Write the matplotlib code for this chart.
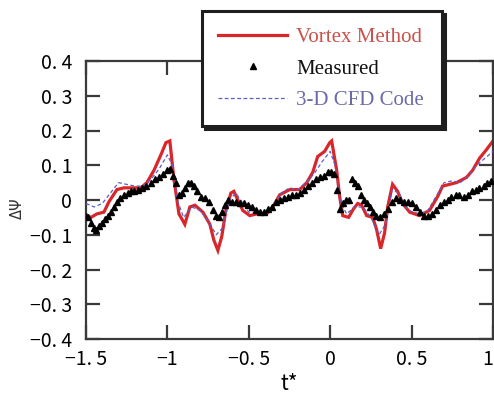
import matplotlib
matplotlib.use("Agg")
import matplotlib.pyplot as plt
from matplotlib.ticker import FixedLocator, FuncFormatter

# ---- data ---------------------------------------------------------------
# Vortex method (solid red)
vortex_t = [-1.500, -1.469, -1.433, -1.390, -1.359, -1.310, -1.267, -1.206, -1.163,
            -1.126, -1.083, -1.040, -1.009, -0.985, -0.960, -0.929, -0.893, -0.862,
            -0.831, -0.782, -0.739, -0.715, -0.690, -0.666, -0.641, -0.610, -0.592,
            -0.567, -0.537, -0.494, -0.451, -0.390, -0.353, -0.310, -0.248, -0.187,
            -0.144, -0.107, -0.077, -0.034, -0.003, 0.009, 0.040, 0.058, 0.077,
            0.113, 0.144, 0.169, 0.193, 0.224, 0.261, 0.285, 0.310, 0.334, 0.353,
            0.383, 0.414, 0.445, 0.488, 0.549, 0.610, 0.660, 0.690, 0.776, 0.837,
            0.874, 0.917, 0.960, 1.000]
vortex_v = [-0.045, -0.050, -0.040, -0.035, -0.005, 0.030, 0.035, 0.035, 0.035,
            0.050, 0.085, 0.130, 0.165, 0.170, 0.060, -0.040, -0.070, -0.020,
            -0.015, -0.035, -0.070, -0.115, -0.145, -0.105, -0.030, 0.020, 0.025,
            0.000, -0.030, -0.045, -0.040, -0.040, -0.020, 0.015, 0.030, 0.030,
            0.050, 0.080, 0.125, 0.140, 0.165, 0.170, 0.085, 0.010, -0.045,
            -0.050, -0.025, -0.010, -0.015, -0.045, -0.050, -0.085, -0.140, -0.095, -0.020,
            0.045, 0.025, -0.010, -0.035, -0.045, -0.030, 0.010, 0.040, 0.050, 0.065,
            0.085, 0.120, 0.145, 0.170]

# Measured (black triangles)
meas_t = [-1.500, -1.488, -1.469, -1.451, -1.439, -1.420, -1.402, -1.383, -1.365,
          -1.347, -1.328, -1.310, -1.291, -1.267, -1.242, -1.224, -1.206, -1.181,
          -1.156, -1.132, -1.101, -1.077, -1.052, -1.028, -1.003, -0.985, -0.966,
          -0.948, -0.929, -0.911, -0.893, -0.874, -0.856, -0.837, -0.819, -0.794,
          -0.770, -0.745, -0.721, -0.702, -0.684, -0.666, -0.647, -0.629, -0.604,
          -0.580, -0.555, -0.531, -0.506, -0.482, -0.457, -0.433, -0.408, -0.383,
          -0.359, -0.334, -0.310, -0.285, -0.261, -0.236, -0.212, -0.187, -0.163,
          -0.138, -0.113, -0.089, -0.064, -0.040, -0.015, 0.003, 0.021, 0.040,
          0.058, 0.077, 0.095, 0.113, 0.132, 0.150, 0.169, 0.187, 0.206, 0.224,
          0.242, 0.261, 0.279, 0.304, 0.328, 0.353, 0.377, 0.402, 0.426, 0.451,
          0.475, 0.500, 0.525, 0.549, 0.574, 0.598, 0.623, 0.647, 0.672, 0.696,
          0.721, 0.745, 0.770, 0.794, 0.819, 0.844, 0.868, 0.893, 0.917, 0.942,
          0.966, 0.985]
meas_v = [-0.045, -0.050, -0.065, -0.080, -0.085, -0.075, -0.065, -0.055, -0.045,
          -0.035, -0.020, -0.005, 0.005, 0.015, 0.020, 0.025, 0.025, 0.030,
          0.035, 0.040, 0.050, 0.060, 0.065, 0.075, 0.085, 0.090, 0.070,
          0.050, 0.015, 0.020, 0.035, 0.050, 0.050, 0.040, 0.025, 0.010,
          0.005, -0.005, -0.030, -0.045, -0.050, -0.035, -0.015, 0.000, -0.005,
          -0.005, -0.010, -0.010, -0.015, -0.020, -0.030, -0.035, -0.035, -0.025,
          -0.020, -0.005, 0.000, 0.005, 0.010, 0.015, 0.015, 0.020, 0.030,
          0.040, 0.050, 0.060, 0.065, 0.070, 0.080, 0.080, 0.075, 0.030,
          -0.025, -0.010, 0.000, 0.000, 0.060, 0.050, 0.040, 0.015, 0.000, -0.010,
          -0.020, -0.035, -0.045, -0.050, -0.040, -0.025, -0.005, 0.005, 0.000, -0.005,
          -0.005, -0.010, -0.020, -0.035, -0.045, -0.045, -0.040, -0.030, -0.015, -0.005,
          0.000, 0.010, 0.015, 0.015, 0.010, 0.015, 0.025, 0.030, 0.035, 0.040,
          0.050, 0.055]

# 3-D CFD code (blue dashed)
cfd_t = [-1.50, -1.45, -1.40, -1.35, -1.30, -1.25, -1.20, -1.15, -1.10, -1.05,
         -1.00, -0.97, -0.94, -0.90, -0.85, -0.80, -0.75, -0.70, -0.66, -0.62,
         -0.58, -0.55, -0.50, -0.45, -0.40, -0.35, -0.30, -0.25, -0.20, -0.15,
         -0.10, -0.05, 0.00, 0.03, 0.06, 0.10, 0.15, 0.20, 0.25, 0.30, 0.34,
         0.38, 0.42, 0.48, 0.55, 0.60, 0.65, 0.70, 0.75, 0.80, 0.85, 0.90,
         0.95, 1.00]
cfd_v = [-0.010, -0.020, -0.010, 0.020, 0.050, 0.045, 0.040, 0.040, 0.060, 0.090,
         0.130, 0.100, 0.000, -0.050, -0.020, -0.030, -0.060, -0.100, -0.080, 0.000,
         0.020, 0.000, -0.035, -0.035, -0.040, -0.015, 0.020, 0.035, 0.030, 0.050,
         0.075, 0.110, 0.140, 0.100, 0.000, -0.040, -0.020, -0.020, -0.050, -0.100, -0.070,
         0.030, 0.020, -0.030, -0.040, -0.030, 0.010, 0.050, 0.055, 0.050, 0.070, 0.100,
         0.120, 0.140]

x_ticks = [-1.5, -1.0, -0.5, 0.0, 0.5, 1.0]
y_ticks = [-0.4, -0.3, -0.2, -0.1, 0.0, 0.1, 0.2, 0.3, 0.4]

series_labels = ["Vortex Method", "Measured", "3-D CFD Code"]

# ---- figure -------------------------------------------------------------
W, H = 494, 396
fig = plt.figure(figsize=(W / 100, H / 100), dpi=100)
ax = fig.add_axes([86 / W, 1 - 339 / H, 407 / W, 278 / H])

red = "#d9262a"
blue = "#5a5fc8"
spine_c = "#3a3a3a"

l_vortex, = ax.plot(vortex_t, vortex_v, color=red, lw=2.3, zorder=2,
                    solid_joinstyle="miter")
l_cfd, = ax.plot(cfd_t, cfd_v, color=blue, lw=0.9, ls=(0, (3, 2)), zorder=3)
l_meas, = ax.plot(meas_t, meas_v, ls="none", marker="^", ms=5.0,
                  color="black", zorder=4)

ax.set_xlim(-1.5, 1.0)
ax.set_ylim(-0.4, 0.4)

def tick_fmt(v, pos):
    if abs(v - round(v)) < 1e-9:
        s = "%d" % round(v)
    else:
        s = "%.1f" % v
        s = s.replace(".", ". ")
    return s.replace("-", "\u2212")

tick_font = ["Noto Sans CJK JP", "DejaVu Sans"]
ax.xaxis.set_major_locator(FixedLocator(x_ticks))
ax.yaxis.set_major_locator(FixedLocator(y_ticks))
ax.xaxis.set_major_formatter(FuncFormatter(tick_fmt))
ax.yaxis.set_major_formatter(FuncFormatter(tick_fmt))
ax.tick_params(which="major", direction="in", length=10, width=1.6,
               color=spine_c, top=True, right=True, labelsize=14)
ax.tick_params(axis="y", pad=10)
ax.tick_params(axis="x", pad=7)
for lab in ax.get_xticklabels() + ax.get_yticklabels():
    lab.set_family(tick_font)
# keep the last x label inside the canvas
fig.canvas.draw()
ax.get_xticklabels()[-1].set_horizontalalignment("right")

for sp in ax.spines.values():
    sp.set_linewidth(1.6)
    sp.set_color(spine_c)

ax.set_xlabel("t*", family=tick_font, fontsize=15, labelpad=2)
fig.text(17 / W, 1 - 208 / H, "\u0394\u03a8", rotation=90, fontsize=10.5,
         ha="center", va="center", family="DejaVu Sans", color="#333333")

# ---- legend box ---------------------------------------------------------
leg = ax.legend([l_vortex, l_meas, l_cfd], series_labels,
                loc="upper left", mode="expand",
                bbox_to_anchor=(202 / W, 1 - 11 / H, 240 / W, 0),
                bbox_transform=fig.transFigure, borderaxespad=0,
                prop={"family": "Liberation Serif", "size": 15},
                handlelength=3.3, handletextpad=0.45, labelspacing=0.58,
                borderpad=0.78, numpoints=1, fancybox=False,
                framealpha=1, edgecolor="#1e1e1e",
                shadow={"color": "#1e1e1e", "alpha": 1.0})
leg.get_frame().set_linewidth(2.2)
leg.set_zorder(10)
leg_colors = ["#c9524a", "#111111", "#6a6aa8"]
for txt, c in zip(leg.get_texts(), leg_colors):
    txt.set_color(c)

fig.savefig("out.png", dpi=100)
